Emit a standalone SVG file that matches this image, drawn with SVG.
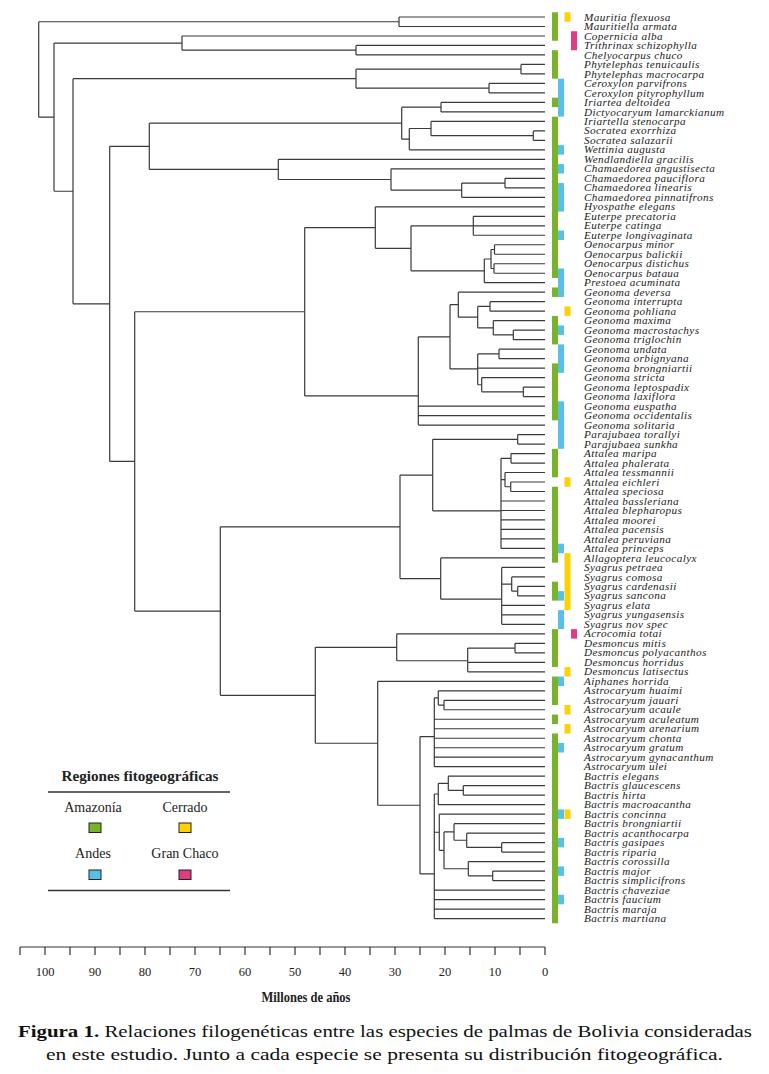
<svg xmlns="http://www.w3.org/2000/svg" width="769" height="1074" viewBox="0 0 769 1074">
<style>
.br{fill:none;stroke:#3a3a3a;stroke-width:1.2}
.sp{font-family:"Liberation Serif",serif;font-style:italic;font-size:11.2px;letter-spacing:0.4px;fill:#222}
.g{fill:#78b42a}.b{fill:#58c0e6}.y{fill:#fdd200}.p{fill:#de3d82}
.ax{fill:none;stroke:#333;stroke-width:1.2}
.tk{font-family:"Liberation Serif",serif;font-size:12.5px;fill:#222;text-anchor:middle}
.lg{font-family:"Liberation Serif",serif;font-size:14px;fill:#222;text-anchor:middle}
.sq{stroke:#222;stroke-width:1}
.cap{font-family:"Liberation Serif",serif;font-size:17px;fill:#111}
</style>
<rect width="769" height="1074" fill="#fff"/>
<g id="connectors" class="br">
<path d="M38.7 21.75V117.19M38.7 21.75H399M38.7 117.19H54"/>
<path d="M399 17V26.49M399 17H545M399 26.49H545"/>
<path d="M54 43.1V191.27M54 43.1H182M54 191.27H73"/>
<path d="M182 35.98V50.22M182 35.98H545M182 50.22H356"/>
<path d="M356 45.47V54.96M356 45.47H545M356 54.96H545"/>
<path d="M73 78.69V303.85M73 78.69H356M73 303.85H109.7"/>
<path d="M356 69.2V88.18M356 69.2H521M356 88.18H489"/>
<path d="M521 64.45V73.94M521 64.45H545M521 73.94H545"/>
<path d="M489 83.43V92.92M489 83.43H545M489 92.92H545"/>
<path d="M109.7 146.31V461.39M109.7 146.31H149.3M109.7 461.39H134.7"/>
<path d="M149.3 123.18V169.44M149.3 123.18H401.7M149.3 169.44H278.3"/>
<path d="M401.7 107.16V139.19M401.7 107.16H441M401.7 139.19H409.3"/>
<path d="M441 102.41V111.9M441 102.41H545M441 111.9H545"/>
<path d="M409.3 128.51V149.86M409.3 128.51H431M409.3 149.86H545"/>
<path d="M431 121.39V135.63M431 121.39H545M431 135.63H533.3"/>
<path d="M533.3 130.88V140.37M533.3 130.88H545M533.3 140.37H545"/>
<path d="M278.3 159.35V179.52M278.3 159.35H545M278.3 179.52H391"/>
<path d="M391 168.84V190.2M391 168.84H545M391 190.2H461.7"/>
<path d="M461.7 183.08V197.31M461.7 183.08H505M461.7 197.31H545"/>
<path d="M505 178.33V187.82M505 178.33H545M505 187.82H545"/>
<path d="M134.7 311.73V611.05M134.7 311.73H304.7M134.7 611.05H220.3"/>
<path d="M304.7 227.56V395.89M304.7 227.56H375.3M304.7 395.89H418.3"/>
<path d="M375.3 206.8V248.32M375.3 206.8H545M375.3 248.32H411"/>
<path d="M411 225.78V270.86M411 225.78H473.3M411 270.86H484.3"/>
<path d="M473.3 216.29V235.27M473.3 216.29H545M473.3 225.78H545M473.3 235.27H545"/>
<path d="M484.3 259V282.72M484.3 259H491M484.3 282.72H545"/>
<path d="M491 249.51V268.49M491 249.51H494.5M491 268.49H494"/>
<path d="M494.5 244.76V254.25M494.5 244.76H545M494.5 254.25H545"/>
<path d="M494 263.74V273.23M494 263.74H545M494 273.23H545"/>
<path d="M418.3 336.8V425.07M418.3 336.8H450M418.3 406.09H545M418.3 415.58H545M418.3 425.07H545"/>
<path d="M450 304.67V368.92M450 304.67H458.3M450 368.92H477.7"/>
<path d="M458.3 292.21V317.13M458.3 292.21H545M458.3 317.13H477.7"/>
<path d="M477.7 306.45V327.8M477.7 306.45H490M477.7 327.8H493.3"/>
<path d="M490 301.7V311.19M490 301.7H545M490 311.19H545"/>
<path d="M493.3 320.68V334.92M493.3 320.68H545M493.3 334.92H513.3"/>
<path d="M513.3 330.17V339.66M513.3 330.17H545M513.3 339.66H545"/>
<path d="M477.7 353.9V384.74M477.7 353.9H499M477.7 368.13H545M477.7 384.74H481.7"/>
<path d="M499 349.15V358.64M499 349.15H545M499 358.64H545"/>
<path d="M481.7 377.62V391.86M481.7 377.62H545M481.7 391.86H523.3"/>
<path d="M523.3 387.11V396.6M523.3 387.11H545M523.3 396.6H545"/>
<path d="M220.3 526.81V695.29M220.3 526.81H400M220.3 695.29H315.3"/>
<path d="M400 475.05V578.57M400 475.05H432.7M400 578.57H440.7"/>
<path d="M432.7 439.31V510.78M432.7 439.31H517.7M432.7 510.78H501"/>
<path d="M517.7 434.56V444.05M517.7 434.56H545M517.7 444.05H545"/>
<path d="M501 458.29V548.44M501 458.29H511M501 479.64H505M501 500.99H545M501 510.48H545M501 519.97H545M501 529.46H545M501 538.95H545M501 548.44H545"/>
<path d="M511 453.54V463.03M511 453.54H545M511 463.03H545"/>
<path d="M505 472.52V486.76M505 472.52H545M505 486.76H510.7"/>
<path d="M510.7 482.01V491.5M510.7 482.01H545M510.7 491.5H545"/>
<path d="M440.7 557.93V599.21M440.7 557.93H545M440.7 599.21H501.7"/>
<path d="M501.7 567.42V624.36M501.7 567.42H545M501.7 584.03H511.7M501.7 605.38H545M501.7 614.87H545M501.7 624.36H545"/>
<path d="M511.7 576.91V591.15M511.7 576.91H545M511.7 591.15H517.7"/>
<path d="M517.7 586.4V595.89M517.7 586.4H545M517.7 595.89H545"/>
<path d="M315.3 647.3V743.27M315.3 647.3H396.7M315.3 743.27H377.7"/>
<path d="M396.7 633.85V660.74M396.7 633.85H545M396.7 660.74H467.7"/>
<path d="M467.7 648.09V671.81M467.7 648.09H515M467.7 662.32H545M467.7 671.81H545"/>
<path d="M515 643.34V652.83M515 643.34H545M515 652.83H545"/>
<path d="M377.7 681.3V805.24M377.7 681.3H545M377.7 805.24H420"/>
<path d="M420 736.55V873.92M420 736.55H434.3M420 873.92H434.3"/>
<path d="M434.3 697.91V766.71M434.3 697.91H438.3M434.3 719.26H545M434.3 728.75H545M434.3 738.24H545M434.3 747.73H545M434.3 757.22H545M434.3 766.71H545"/>
<path d="M438.3 690.79V705.03M438.3 690.79H545M438.3 705.03H444"/>
<path d="M444 700.28V709.77M444 700.28H545M444 709.77H545"/>
<path d="M434.3 793.99V918.55M434.3 793.99H438.3M434.3 832.26H439.3M434.3 890.08H545M434.3 899.57H545M434.3 909.06H545M434.3 918.55H545"/>
<path d="M438.3 783.32V804.67M438.3 783.32H448.3M438.3 804.67H545"/>
<path d="M448.3 776.2V790.44M448.3 776.2H545M448.3 790.44H463.3"/>
<path d="M463.3 785.69V795.18M463.3 785.69H545M463.3 795.18H545"/>
<path d="M439.3 814.16V850.35M439.3 814.16H545M439.3 850.35H444"/>
<path d="M444 831.96V868.73M444 831.96H454M444 868.73H468.3"/>
<path d="M454 823.65V840.26M454 823.65H545M454 840.26H466.7"/>
<path d="M466.7 833.14V847.38M466.7 833.14H545M466.7 847.38H501.7"/>
<path d="M501.7 842.63V852.12M501.7 842.63H545M501.7 852.12H545"/>
<path d="M468.3 861.61V875.85M468.3 861.61H545M468.3 875.85H492.7"/>
<path d="M492.7 871.1V880.59M492.7 871.1H545M492.7 880.59H545"/>
</g>
<g id="regions">
<g class="g">
<rect x="552" y="12.25" width="6" height="28.48"/>
<rect x="552" y="50.22" width="6" height="28.47"/>
<rect x="552" y="97.67" width="6" height="9.49"/>
<rect x="552" y="116.65" width="6" height="161.33"/>
<rect x="552" y="287.47" width="6" height="9.49"/>
<rect x="552" y="315.94" width="6" height="28.47"/>
<rect x="552" y="363.39" width="6" height="56.94"/>
<rect x="552" y="448.8" width="6" height="28.47"/>
<rect x="552" y="486.76" width="6" height="75.92"/>
<rect x="552" y="581.66" width="6" height="18.98"/>
<rect x="552" y="629.11" width="6" height="37.96"/>
<rect x="552" y="676.56" width="6" height="28.47"/>
<rect x="552" y="714.52" width="6" height="9.49"/>
<rect x="552" y="733.5" width="6" height="189.8"/>
</g>
<g class="b">
<rect x="558" y="78.69" width="6" height="37.96"/>
<rect x="558" y="145.12" width="6" height="9.49"/>
<rect x="558" y="164.1" width="6" height="9.49"/>
<rect x="558" y="183.08" width="6" height="28.47"/>
<rect x="558" y="230.53" width="6" height="9.49"/>
<rect x="558" y="268.49" width="6" height="28.47"/>
<rect x="558" y="325.43" width="6" height="9.49"/>
<rect x="558" y="344.41" width="6" height="28.47"/>
<rect x="558" y="401.35" width="6" height="47.45"/>
<rect x="558" y="543.7" width="6" height="9.49"/>
<rect x="558" y="591.15" width="6" height="9.49"/>
<rect x="558" y="610.13" width="6" height="18.98"/>
<rect x="558" y="676.56" width="6" height="9.49"/>
<rect x="558" y="742.99" width="6" height="9.49"/>
<rect x="558" y="809.42" width="6" height="9.49"/>
<rect x="558" y="837.89" width="6" height="9.49"/>
<rect x="558" y="866.36" width="6" height="9.49"/>
<rect x="558" y="894.83" width="6" height="9.49"/>
</g>
<g class="y">
<rect x="564.5" y="12.25" width="6" height="9.49"/>
<rect x="564.5" y="306.45" width="6" height="9.49"/>
<rect x="564.5" y="477.27" width="6" height="9.49"/>
<rect x="564.5" y="553.19" width="6" height="56.94"/>
<rect x="564.5" y="667.07" width="6" height="9.49"/>
<rect x="564.5" y="705.03" width="6" height="9.49"/>
<rect x="564.5" y="724.01" width="6" height="9.49"/>
<rect x="564.5" y="809.42" width="6" height="9.49"/>
</g>
<g class="p">
<rect x="571" y="31.24" width="6" height="18.98"/>
<rect x="571" y="629.11" width="6" height="9.49"/>
</g>
</g>
<g id="taxa" class="sp">
<g id="n01"><text x="584" y="20.6">Mauritia flexuosa</text></g>
<g id="n02"><text x="584" y="30.09">Mauritiella armata</text></g>
<g id="n03"><text x="584" y="39.58">Copernicia alba</text></g>
<g id="n04"><text x="584" y="49.07">Trithrinax schizophylla</text></g>
<g id="n05"><text x="584" y="58.56">Chelyocarpus chuco</text></g>
<g id="n06"><text x="584" y="68.05">Phytelephas tenuicaulis</text></g>
<g id="n07"><text x="584" y="77.54">Phytelephas macrocarpa</text></g>
<g id="n08"><text x="584" y="87.03">Ceroxylon parvifrons</text></g>
<g id="n09"><text x="584" y="96.52">Ceroxylon pityrophyllum</text></g>
<g id="n10"><text x="584" y="106.01">Iriartea deltoidea</text></g>
<g id="n11"><text x="584" y="115.5">Dictyocaryum lamarckianum</text></g>
<g id="n12"><text x="584" y="124.99">Iriartella stenocarpa</text></g>
<g id="n13"><text x="584" y="134.48">Socratea exorrhiza</text></g>
<g id="n14"><text x="584" y="143.97">Socratea salazarii</text></g>
<g id="n15"><text x="584" y="153.46">Wettinia augusta</text></g>
<g id="n16"><text x="584" y="162.95">Wendlandiella gracilis</text></g>
<g id="n17"><text x="584" y="172.44">Chamaedorea angustisecta</text></g>
<g id="n18"><text x="584" y="181.93">Chamaedorea pauciflora</text></g>
<g id="n19"><text x="584" y="191.42">Chamaedorea linearis</text></g>
<g id="n20"><text x="584" y="200.91">Chamaedorea pinnatifrons</text></g>
<g id="n21"><text x="584" y="210.4">Hyospathe elegans</text></g>
<g id="n22"><text x="584" y="219.89">Euterpe precatoria</text></g>
<g id="n23"><text x="584" y="229.38">Euterpe catinga</text></g>
<g id="n24"><text x="584" y="238.87">Euterpe longivaginata</text></g>
<g id="n25"><text x="584" y="248.36">Oenocarpus minor</text></g>
<g id="n26"><text x="584" y="257.85">Oenocarpus balickii</text></g>
<g id="n27"><text x="584" y="267.34">Oenocarpus distichus</text></g>
<g id="n28"><text x="584" y="276.83">Oenocarpus bataua</text></g>
<g id="n29"><text x="584" y="286.32">Prestoea acuminata</text></g>
<g id="n30"><text x="584" y="295.81">Geonoma deversa</text></g>
<g id="n31"><text x="584" y="305.3">Geonoma interrupta</text></g>
<g id="n32"><text x="584" y="314.79">Geonoma pohliana</text></g>
<g id="n33"><text x="584" y="324.28">Geonoma maxima</text></g>
<g id="n34"><text x="584" y="333.77">Geonoma macrostachys</text></g>
<g id="n35"><text x="584" y="343.26">Geonoma triglochin</text></g>
<g id="n36"><text x="584" y="352.75">Geonoma undata</text></g>
<g id="n37"><text x="584" y="362.24">Geonoma orbignyana</text></g>
<g id="n38"><text x="584" y="371.73">Geonoma brongniartii</text></g>
<g id="n39"><text x="584" y="381.22">Geonoma stricta</text></g>
<g id="n40"><text x="584" y="390.71">Geonoma leptospadix</text></g>
<g id="n41"><text x="584" y="400.2">Geonoma laxiflora</text></g>
<g id="n42"><text x="584" y="409.69">Geonoma euspatha</text></g>
<g id="n43"><text x="584" y="419.18">Geonoma occidentalis</text></g>
<g id="n44"><text x="584" y="428.67">Geonoma solitaria</text></g>
<g id="n45"><text x="584" y="438.16">Parajubaea torallyi</text></g>
<g id="n46"><text x="584" y="447.65">Parajubaea sunkha</text></g>
<g id="n47"><text x="584" y="457.14">Attalea maripa</text></g>
<g id="n48"><text x="584" y="466.63">Attalea phalerata</text></g>
<g id="n49"><text x="584" y="476.12">Attalea tessmannii</text></g>
<g id="n50"><text x="584" y="485.61">Attalea eichleri</text></g>
<g id="n51"><text x="584" y="495.1">Attalea speciosa</text></g>
<g id="n52"><text x="584" y="504.59">Attalea bassleriana</text></g>
<g id="n53"><text x="584" y="514.08">Attalea blepharopus</text></g>
<g id="n54"><text x="584" y="523.57">Attalea moorei</text></g>
<g id="n55"><text x="584" y="533.06">Attalea pacensis</text></g>
<g id="n56"><text x="584" y="542.55">Attalea peruviana</text></g>
<g id="n57"><text x="584" y="552.04">Attalea princeps</text></g>
<g id="n58"><text x="584" y="561.53">Allagoptera leucocalyx</text></g>
<g id="n59"><text x="584" y="571.02">Syagrus petraea</text></g>
<g id="n60"><text x="584" y="580.51">Syagrus comosa</text></g>
<g id="n61"><text x="584" y="590">Syagrus cardenasii</text></g>
<g id="n62"><text x="584" y="599.49">Syagrus sancona</text></g>
<g id="n63"><text x="584" y="608.98">Syagrus elata</text></g>
<g id="n64"><text x="584" y="618.47">Syagrus yungasensis</text></g>
<g id="n65"><text x="584" y="627.96">Syagrus nov spec</text></g>
<g id="n66"><text x="584" y="637.45">Acrocomia totai</text></g>
<g id="n67"><text x="584" y="646.94">Desmoncus mitis</text></g>
<g id="n68"><text x="584" y="656.43">Desmoncus polyacanthos</text></g>
<g id="n69"><text x="584" y="665.92">Desmoncus horridus</text></g>
<g id="n70"><text x="584" y="675.41">Desmoncus latisectus</text></g>
<g id="n71"><text x="584" y="684.9">Aiphanes horrida</text></g>
<g id="n72"><text x="584" y="694.39">Astrocaryum huaimi</text></g>
<g id="n73"><text x="584" y="703.88">Astrocaryum jauari</text></g>
<g id="n74"><text x="584" y="713.37">Astrocaryum acaule</text></g>
<g id="n75"><text x="584" y="722.86">Astrocaryum aculeatum</text></g>
<g id="n76"><text x="584" y="732.35">Astrocaryum arenarium</text></g>
<g id="n77"><text x="584" y="741.84">Astrocaryum chonta</text></g>
<g id="n78"><text x="584" y="751.33">Astrocaryum gratum</text></g>
<g id="n79"><text x="584" y="760.82">Astrocaryum gynacanthum</text></g>
<g id="n80"><text x="584" y="770.31">Astrocaryum ulei</text></g>
<g id="n81"><text x="584" y="779.8">Bactris elegans</text></g>
<g id="n82"><text x="584" y="789.29">Bactris glaucescens</text></g>
<g id="n83"><text x="584" y="798.78">Bactris hirta</text></g>
<g id="n84"><text x="584" y="808.27">Bactris macroacantha</text></g>
<g id="n85"><text x="584" y="817.76">Bactris concinna</text></g>
<g id="n86"><text x="584" y="827.25">Bactris brongniartii</text></g>
<g id="n87"><text x="584" y="836.74">Bactris acanthocarpa</text></g>
<g id="n88"><text x="584" y="846.23">Bactris gasipaes</text></g>
<g id="n89"><text x="584" y="855.72">Bactris riparia</text></g>
<g id="n90"><text x="584" y="865.21">Bactris corossilla</text></g>
<g id="n91"><text x="584" y="874.7">Bactris major</text></g>
<g id="n92"><text x="584" y="884.19">Bactris simplicifrons</text></g>
<g id="n93"><text x="584" y="893.68">Bactris chaveziae</text></g>
<g id="n94"><text x="584" y="903.17">Bactris faucium</text></g>
<g id="n95"><text x="584" y="912.66">Bactris maraja</text></g>
<g id="n96"><text x="584" y="922.15">Bactris martiana</text></g>
</g>
<g id="legend">
<text x="140" y="781" font-family="Liberation Serif, serif" font-size="14.5" font-weight="bold" text-anchor="middle" fill="#222" textLength="157" lengthAdjust="spacingAndGlyphs">Regiones fitogeográficas</text>
<path d="M48 792H230M48 890.5H230" stroke="#333" stroke-width="1.5"/>
<text class="lg" x="93" y="812">Amazonía</text>
<text class="lg" x="185" y="812">Cerrado</text>
<rect class="g sq" x="89" y="823" width="12" height="9.5"/>
<rect class="y sq" x="179" y="823" width="12" height="9.5"/>
<text class="lg" x="93" y="858">Andes</text>
<text class="lg" x="185" y="858">Gran Chaco</text>
<rect class="b sq" x="89" y="870" width="12" height="9.5"/>
<rect class="p sq" x="179" y="870" width="12" height="9.5"/>
</g>
<g id="axis">
<path class="ax" d="M20 947H545M20 947V955M45 947V955M70 947V955M95 947V955M120 947V955M145 947V955M170 947V955M195 947V955M220 947V955M245 947V955M270 947V955M295 947V955M320 947V955M345 947V955M370 947V955M395 947V955M420 947V955M445 947V955M470 947V955M495 947V955M520 947V955M545 947V955"/>
<text class="tk" x="45" y="976">100</text>
<text class="tk" x="95" y="976">90</text>
<text class="tk" x="145" y="976">80</text>
<text class="tk" x="195" y="976">70</text>
<text class="tk" x="245" y="976">60</text>
<text class="tk" x="295" y="976">50</text>
<text class="tk" x="345" y="976">40</text>
<text class="tk" x="395" y="976">30</text>
<text class="tk" x="445" y="976">20</text>
<text class="tk" x="495" y="976">10</text>
<text class="tk" x="545" y="976">0</text>
<text x="306" y="1002" font-family="Liberation Serif, serif" font-size="14" font-weight="bold" text-anchor="middle" fill="#222" textLength="89" lengthAdjust="spacingAndGlyphs">Millones de años</text>
</g>
<g id="caption" class="cap">
<text x="18" y="1037" textLength="734" lengthAdjust="spacingAndGlyphs"><tspan font-weight="bold">Figura 1.</tspan> Relaciones filogenéticas entre las especies de palmas de Bolivia consideradas</text>
<text x="46" y="1060" textLength="677" lengthAdjust="spacingAndGlyphs">en este estudio. Junto a cada especie se presenta su distribución fitogeográfica.</text>
</g>
</svg>
